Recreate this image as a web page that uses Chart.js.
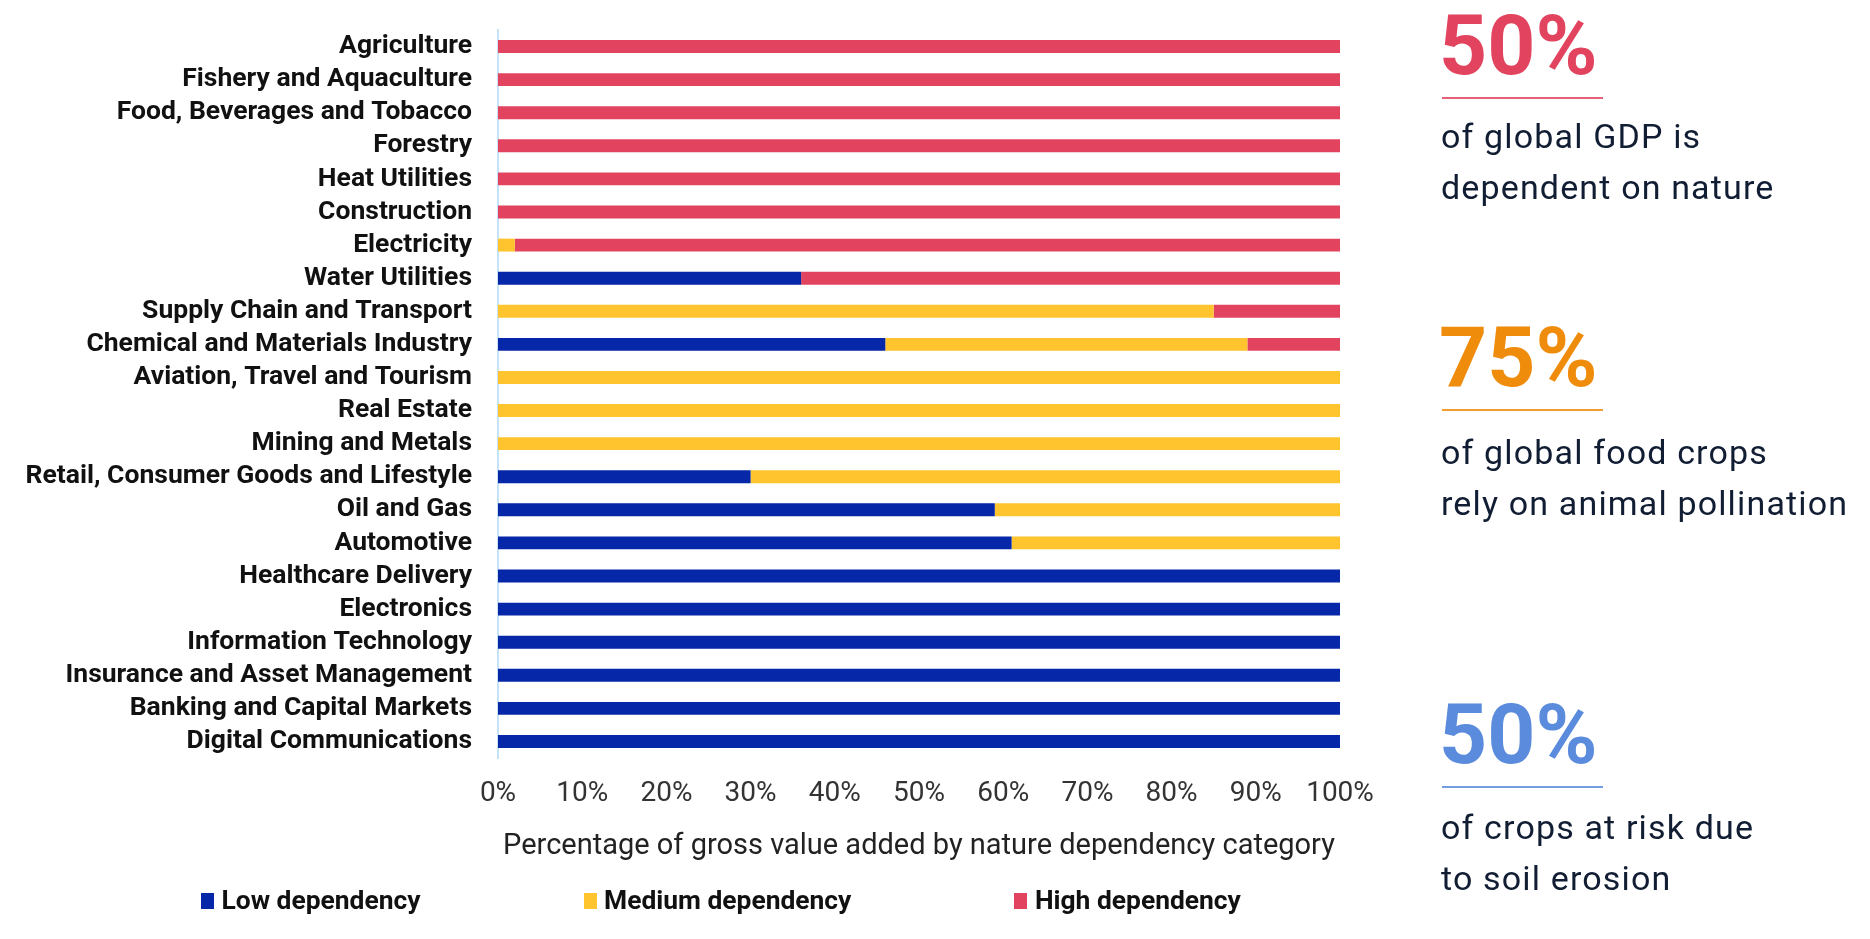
<!DOCTYPE html>
<html>
<head>
<meta charset="utf-8">
<script src="https://cdn.jsdelivr.net/npm/chart.js@4.4.1/dist/chart.umd.min.js"></script>
<style>
  html, body { margin: 0; padding: 0; background: #ffffff; }
  #wrap { position: relative; width: 1870px; height: 939px; overflow: hidden; font-family: Roboto, "Noto Sans", sans-serif; }
  #chartBox { position: absolute; left: 0; top: 0; width: 1870px; height: 939px; }
  .stat { position: absolute; left: 1439px; width: 430px; height: 220px; }
  .num { position: absolute; left: 0; top: 0; font-weight: 700; font-size: 84px; line-height: 84px; white-space: nowrap; }
  .rule { position: absolute; left: 3px; top: 92.5px; width: 161px; height: 2px; }
  .desc { position: absolute; left: 2px; font-size: 34px; line-height: 51px; letter-spacing: 1.15px; color: #111d33; white-space: nowrap; }
  #legend { position: absolute; left: 201px; top: 887px; height: 27px; display: flex; align-items: center; gap: 163px; }
  .item { display: flex; align-items: center; font-weight: 700; font-size: 26.4px; line-height: 27px; color: #111111; white-space: nowrap; }
  .swatch { width: 13px; height: 16px; margin-right: 7.5px; }
</style>
</head>
<body>
<div id="wrap">
  <div id="chartBox"><canvas id="c"></canvas></div>
  <div id="legend"></div>
</div>
<script>
// ---- data ----
const categories = [
  "Agriculture",
  "Fishery and Aquaculture",
  "Food, Beverages and Tobacco",
  "Forestry",
  "Heat Utilities",
  "Construction",
  "Electricity",
  "Water Utilities",
  "Supply Chain and Transport",
  "Chemical and Materials Industry",
  "Aviation, Travel and Tourism",
  "Real Estate",
  "Mining and Metals",
  "Retail, Consumer Goods and Lifestyle",
  "Oil and Gas",
  "Automotive",
  "Healthcare Delivery",
  "Electronics",
  "Information Technology",
  "Insurance and Asset Management",
  "Banking and Capital Markets",
  "Digital Communications"
];
const lowDependency    = [0, 0, 0, 0, 0, 0, 0, 36, 0, 46, 0, 0, 0, 30, 59, 61, 100, 100, 100, 100, 100, 100];
const mediumDependency = [0, 0, 0, 0, 0, 0, 2, 0, 85, 43, 100, 100, 100, 70, 41, 39, 0, 0, 0, 0, 0, 0];
const highDependency   = [100, 100, 100, 100, 100, 100, 98, 64, 15, 11, 0, 0, 0, 0, 0, 0, 0, 0, 0, 0, 0, 0];
const seriesNames = ["Low dependency", "Medium dependency", "High dependency"];
const xTickLabels = ["0%", "10%", "20%", "30%", "40%", "50%", "60%", "70%", "80%", "90%", "100%"];
const axisTitle = "Percentage of gross value added by nature dependency category";

const statValues = ["50%", "75%", "50%"];
const statTexts = [
  ["of global GDP is", "dependent on nature"],
  ["of global food crops", "rely on animal pollination"],
  ["of crops at risk due", "to soil erosion"]
];

// ---- styles / layout ----
const seriesColors = ["#0527a8", "#ffc42e", "#e2445f"];
const statColors = ["#e2445f", "#f08c0c", "#5a8bdc"];
const statTops = [4.3, 316, 693.3];
const statDescTops = [107, 111, 108.3];

const ctx = document.getElementById("c").getContext("2d");
const chart = new Chart(ctx, {
  type: "bar",
  data: {
    labels: categories,
    datasets: [
      { label: seriesNames[0], data: lowDependency, backgroundColor: seriesColors[0] },
      { label: seriesNames[1], data: mediumDependency, backgroundColor: seriesColors[1] },
      { label: seriesNames[2], data: highDependency, backgroundColor: seriesColors[2] }
    ]
  },
  options: {
    indexAxis: "y",
    responsive: true,
    maintainAspectRatio: false,
    animation: false,
    devicePixelRatio: 1,
    layout: { padding: { top: 30, right: 530, bottom: 74.6, left: 0 } },
    datasets: { bar: { categoryPercentage: 1, barPercentage: 0.39, borderWidth: 0 } },
    plugins: { legend: { display: false }, tooltip: { enabled: false } },
    scales: {
      x: {
        stacked: true,
        min: 0,
        max: 100,
        afterFit: (scale) => { scale.height = 106.4; },
        ticks: {
          stepSize: 10,
          padding: 19,
          maxRotation: 0,
          color: "#333333",
          font: { family: "Roboto", size: 28, weight: "400" },
          callback: (v, i) => xTickLabels[i]
        },
        grid: { display: false, drawTicks: false },
        border: { display: false },
        title: {
          display: true,
          text: axisTitle,
          color: "#222222",
          font: { family: "Roboto", size: 29, weight: "400" },
          padding: { top: 19, bottom: 0 }
        }
      },
      y: {
        stacked: true,
        afterFit: (scale) => { scale.width = 498; scale.paddingTop = 0; scale.paddingBottom = 0; },
        ticks: {
          padding: 26,
          color: "#111111",
          autoSkip: false,
          font: { family: "Roboto", size: 26.5, weight: "700" }
        },
        grid: { display: true, color: "rgba(0,0,0,0)", drawTicks: false, drawOnChartArea: false },
        border: { display: true, color: "#c6e2f6", width: 2 }
      }
    }
  }
});

// HTML legend built from the chart datasets
const legendEl = document.getElementById("legend");
chart.data.datasets.forEach(ds => {
  const item = document.createElement("div");
  item.className = "item";
  const sw = document.createElement("span");
  sw.className = "swatch";
  sw.style.background = ds.backgroundColor;
  const tx = document.createElement("span");
  tx.textContent = ds.label;
  item.appendChild(sw);
  item.appendChild(tx);
  legendEl.appendChild(item);
});

// Right-hand key figures
const wrap = document.getElementById("wrap");
statValues.forEach((v, i) => {
  const block = document.createElement("div");
  block.className = "stat";
  block.style.top = statTops[i] + "px";
  const num = document.createElement("div");
  num.className = "num";
  num.style.color = statColors[i];
  num.textContent = v;
  const rule = document.createElement("div");
  rule.className = "rule";
  rule.style.background = statColors[i];
  rule.style.opacity = "0.85";
  const desc = document.createElement("div");
  desc.className = "desc";
  desc.style.top = statDescTops[i] + "px";
  desc.innerHTML = statTexts[i].map(t => t.replace(/&/g, "&amp;")).join("<br>");
  block.appendChild(num);
  block.appendChild(rule);
  block.appendChild(desc);
  wrap.appendChild(block);
});
</script>
</body>
</html>
